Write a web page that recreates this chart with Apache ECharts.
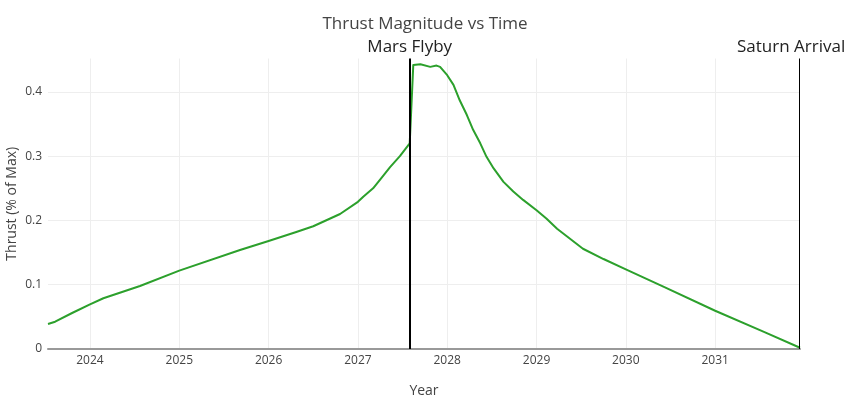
<!DOCTYPE html>
<html>
<head>
<meta charset="utf-8">
<script src="https://cdn.jsdelivr.net/npm/echarts@6/dist/echarts.min.js"></script>
<style>
  html, body { margin: 0; padding: 0; background: #fff; }
  #chart { width: 850px; height: 399px; }
</style>
</head>
<body>
<div id="chart"></div>
<script>
// decimal year of each sample
const years = [
  2023.53, 2023.61, 2023.8, 2024.0, 2024.15, 2024.56, 2025.0, 2025.68, 2026.0,
  2026.31, 2026.5, 2026.8, 2027.0, 2027.06, 2027.17, 2027.28, 2027.36, 2027.47, 2027.58,
  2027.62, 2027.70, 2027.81, 2027.88, 2027.92, 2028.0, 2028.07, 2028.14, 2028.22, 2028.29,
  2028.37, 2028.44, 2028.52, 2028.63, 2028.74, 2028.85, 2029.0, 2029.11,
  2029.23, 2029.52, 2029.75, 2030.0, 2030.42, 2031.0, 2031.54, 2031.95
];
// thrust, fraction of max
const thrust = [
  0.039, 0.0425, 0.056, 0.0695, 0.079, 0.098, 0.122, 0.154, 0.168,
  0.182, 0.191, 0.210, 0.229, 0.237, 0.250, 0.269, 0.283, 0.300, 0.320,
  0.442, 0.443, 0.439, 0.441, 0.439, 0.426, 0.411, 0.387, 0.364, 0.341,
  0.320, 0.299, 0.281, 0.260, 0.245, 0.232, 0.216, 0.203,
  0.187, 0.156, 0.140, 0.124, 0.097, 0.0595, 0.027, 0.002
];
const yearTicks = [2024, 2025, 2026, 2027, 2028, 2029, 2030, 2031];
const thrustTicks = [0, 0.1, 0.2, 0.3, 0.4];
const marsFlyby = 2027.58;
const saturnArrival = 2031.94;

const chart = echarts.init(document.getElementById('chart'));
const font = '"Open Sans", "DejaVu Sans", sans-serif';

chart.setOption({
  animation: false,
  textStyle: { fontFamily: font },
  title: {
    text: 'Thrust Magnitude vs Time',
    left: 'center',
    top: 11,
    textStyle: { fontFamily: font, fontSize: 17, fontWeight: 'normal', color: '#444' }
  },
  grid: { left: 48, right: 50, top: 58.5, bottom: 50, containLabel: false, outerBoundsMode: 'none' },
  xAxis: {
    type: 'value',
    min: 2023.53,
    max: 2031.95,
    name: 'Year',
    nameLocation: 'middle',
    nameGap: 35,
    nameMoveOverlap: false,
    nameTextStyle: { fontFamily: font, fontSize: 14, color: '#444' },
    axisLine: { show: true, onZero: true, lineStyle: { color: '#999', width: 2 } },
    axisTick: { show: false, customValues: yearTicks },
    axisLabel: {
      customValues: yearTicks, color: '#444', fontSize: 12, margin: 6, fontFamily: font,
      formatter: (v) => String(Math.round(v))
    },
    splitLine: { show: true, lineStyle: { color: '#eee', width: 1 } }
  },
  yAxis: {
    type: 'value',
    min: 0,
    max: 0.452,
    name: 'Thrust (% of Max)',
    nameLocation: 'middle',
    nameGap: 29,
    nameMoveOverlap: false,
    nameTextStyle: { fontFamily: font, fontSize: 14, color: '#444' },
    axisLine: { show: false },
    axisTick: { show: false, customValues: thrustTicks },
    axisLabel: { customValues: thrustTicks, color: '#444', fontSize: 12, margin: 6, fontFamily: font },
    splitLine: { show: true, lineStyle: { color: '#eee', width: 1 } }
  },
  series: [{
    type: 'line',
    data: years.map((y, i) => [y, thrust[i]]),
    showSymbol: false,
    smooth: false,
    lineStyle: { color: '#2ca02c', width: 2, join: 'round' },
    markLine: {
      silent: true,
      symbol: 'none',
      animation: false,
      data: [
        {
          xAxis: marsFlyby,
          lineStyle: { color: '#000', width: 2, type: 'solid' },
          label: { show: true, position: 'end', formatter: 'Mars Flyby', fontFamily: font, fontSize: 17, color: '#222', distance: 3 }
        },
        {
          xAxis: saturnArrival,
          lineStyle: { color: '#000', width: 1, type: 'solid' },
          label: { show: true, position: 'end', formatter: 'Saturn Arrival', fontFamily: font, fontSize: 17, color: '#222', distance: 3, offset: [-8, 0] }
        }
      ]
    }
  }]
});
</script>
</body>
</html>
